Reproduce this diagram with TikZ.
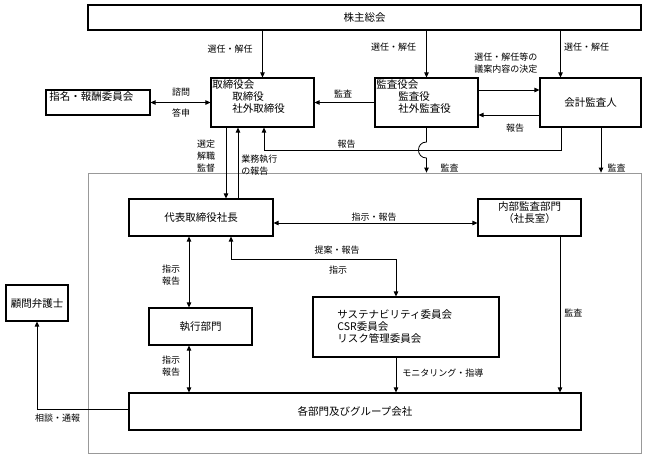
\documentclass[tikz,border=0pt]{standalone}
\usepackage{fontspec}
\setmainfont{Noto Sans CJK JP}
\usetikzlibrary{arrows.meta}

\begin{document}
\begin{tikzpicture}[x=1pt,y=-1pt,line width=0.8pt,
  >={Triangle[length=5pt,width=4.5pt]}]
\newcommand{\bsize}{\fontsize{10.5}{12}\selectfont}
\newcommand{\lsize}{\fontsize{9}{12}\selectfont}
\useasboundingbox (0,0) rectangle (648,459);
\tikzset{box/.style={draw,line width=1.1pt,inner sep=0pt,font=\bsize},
  txt/.style={inner sep=0pt,font=\bsize},
  lbl/.style={inner sep=0pt,font=\lsize,align=center}}
% outer frame of the company
\node[draw=gray!80,line width=0.8pt,minimum width=553pt,minimum height=280pt] (frame) at (364.5,313) {};
% boxes
\node[box,minimum width=553pt,minimum height=25pt] (agm) at (364.5,17.5) {株主総会};
\node[box,minimum width=104pt,minimum height=25pt] (nom) at (98,102.5) {};
\node[txt,anchor=west] (nomtxt) at (49,97) {指名・報酬委員会};
\node[box,minimum width=103pt,minimum height=49pt] (board) at (262.5,102.5) {};
\node[txt,anchor=north west,align=left] (boardtxt) at (212,79) {取締役会\\\hspace{20pt}取締役\\\hspace{20pt}社外取締役};
\node[box,minimum width=103pt,minimum height=49pt] (audit) at (426.5,102.5) {};
\node[txt,anchor=north west,align=left] (audittxt) at (376,79) {監査役会\\\hspace{22pt}監査役\\\hspace{22pt}社外監査役};
\node[box,minimum width=101pt,minimum height=49pt] (cpa) at (590.5,102.5) {会計監査人};
\node[box,minimum width=144pt,minimum height=37pt] (pres) at (201,217.5) {代表取締役社長};
\node[box,minimum width=103pt,minimum height=37pt] (intaud) at (529.5,217.5) {};
\node[txt,anchor=north,align=center] (intaudtxt) at (529.5,201) {内部監査部門\\（社長室）};
\node[box,minimum width=186pt,minimum height=60pt] (susta) at (406,327) {};
\node[txt,anchor=west,align=left] (sustatxt) at (337,327) {サステナビリティ委員会\\CSR委員会\\リスク管理委員会};
\node[box,minimum width=103pt,minimum height=37pt] (exec) at (200.5,326.5) {執行部門};
\node[box,minimum width=452pt,minimum height=37pt] (depts) at (355,411.5) {各部門及びグループ会社};
\node[box,minimum width=62pt,minimum height=36pt] (lawyer) at (37,303) {顧問弁護士};
% helper points
\coordinate (cpaT) at ([xshift=-30pt]cpa.north);
\coordinate (cpaBL) at ([xshift=-29.5pt]cpa.south);
\coordinate (cpaBR) at ([xshift=10.5pt]cpa.south);
\coordinate (rpt) at (264,150);
\coordinate (sel) at ([xshift=-36.5pt]board.south);
\coordinate (exe) at ([xshift=-24.5pt]board.south);
\coordinate (pst) at ([xshift=30pt]pres.south);
\coordinate (prop) at (396,259);
\coordinate (pe) at ([xshift=-12pt]pres.south);
\coordinate (ia) at ([xshift=30.5pt]intaud.south);
% connectors
\draw [->] (agm.south -| board.north) -- (board.north);
\draw [->] (agm.south -| audit.north) -- (audit.north);
\draw [->] (agm.south -| cpaT) -- (cpaT);
\draw [->] ([yshift=12.5pt]audit.east) -- ([yshift=12.5pt]cpa.west);
\draw [->] ([yshift=-12.5pt]cpa.west) -- ([yshift=-12.5pt]audit.east);
\draw [->] (audit.west) -- (board.east);
\draw [<->] (board.west) -- (nom.east);
\draw [->] (cpaBL) |- (rpt) -- (rpt |- board.south);
\draw [->] (audit.south) -- (426.5,142) .. controls (415.8,142) and (415.8,158) .. (426.5,158) -- (audit.south |- frame.north);
\draw [->] (cpaBR) -- (cpaBR |- frame.north);
\draw [->] (sel) -- (sel |- pres.north);
\draw [<-] (exe) -- (exe |- pres.north);
\draw [<->] ([yshift=-5.5pt]pres.east) -- ([yshift=-5.5pt]intaud.west);
\draw [<->] (pst) |- (prop) -- (prop |- susta.north);
\draw [<->] (pe) -- (pe |- exec.north);
\draw [<->] (pe |- exec.south) -- (pe |- depts.north);
\draw [->] (prop |- susta.south) -- (prop |- depts.north);
\draw [->] (ia) -- (ia |- depts.north);
\draw [->] ([yshift=2.5pt]depts.west) -| (lawyer.south);
% labels
\node[lbl] (l1) at (230,49) {選任・解任};
\node[lbl] (l2) at (393.5,47) {選任・解任};
\node[lbl] (l3) at (586.5,47) {選任・解任};
\node[lbl,anchor=west,align=left] (l4) at (474,63.5) {選任・解任等の\\議案内容の決定};
\node[lbl] (l5) at (181,92) {諮問};
\node[lbl] (l6) at (181,113) {答申};
\node[lbl] (l7) at (343,94) {監査};
\node[lbl] (l8) at (515,128) {報告};
\node[lbl] (l9) at (346.5,144) {報告};
\node[lbl] (l10) at (449.5,168) {監査};
\node[lbl] (l11) at (616.5,168) {監査};
\node[lbl] (l12) at (206,156) {選定\\解職\\監督};
\node[lbl,anchor=west,align=left] (l13) at (241,165) {業務執行\\の報告};
\node[lbl] (l14) at (374,217) {指示・報告};
\node[lbl] (l15) at (337,250) {提案・報告};
\node[lbl] (l16) at (338,270) {指示};
\node[lbl] (l17) at (171,275.5) {指示\\報告};
\node[lbl] (l18) at (171,366.5) {指示\\報告};
\node[lbl,anchor=west] (l19) at (402,373) {モニタリング・指導};
\node[lbl,anchor=west] (l20) at (564,313) {監査};
\node[lbl] (l21) at (57.5,418) {相談・通報};
\end{tikzpicture}
\end{document}
